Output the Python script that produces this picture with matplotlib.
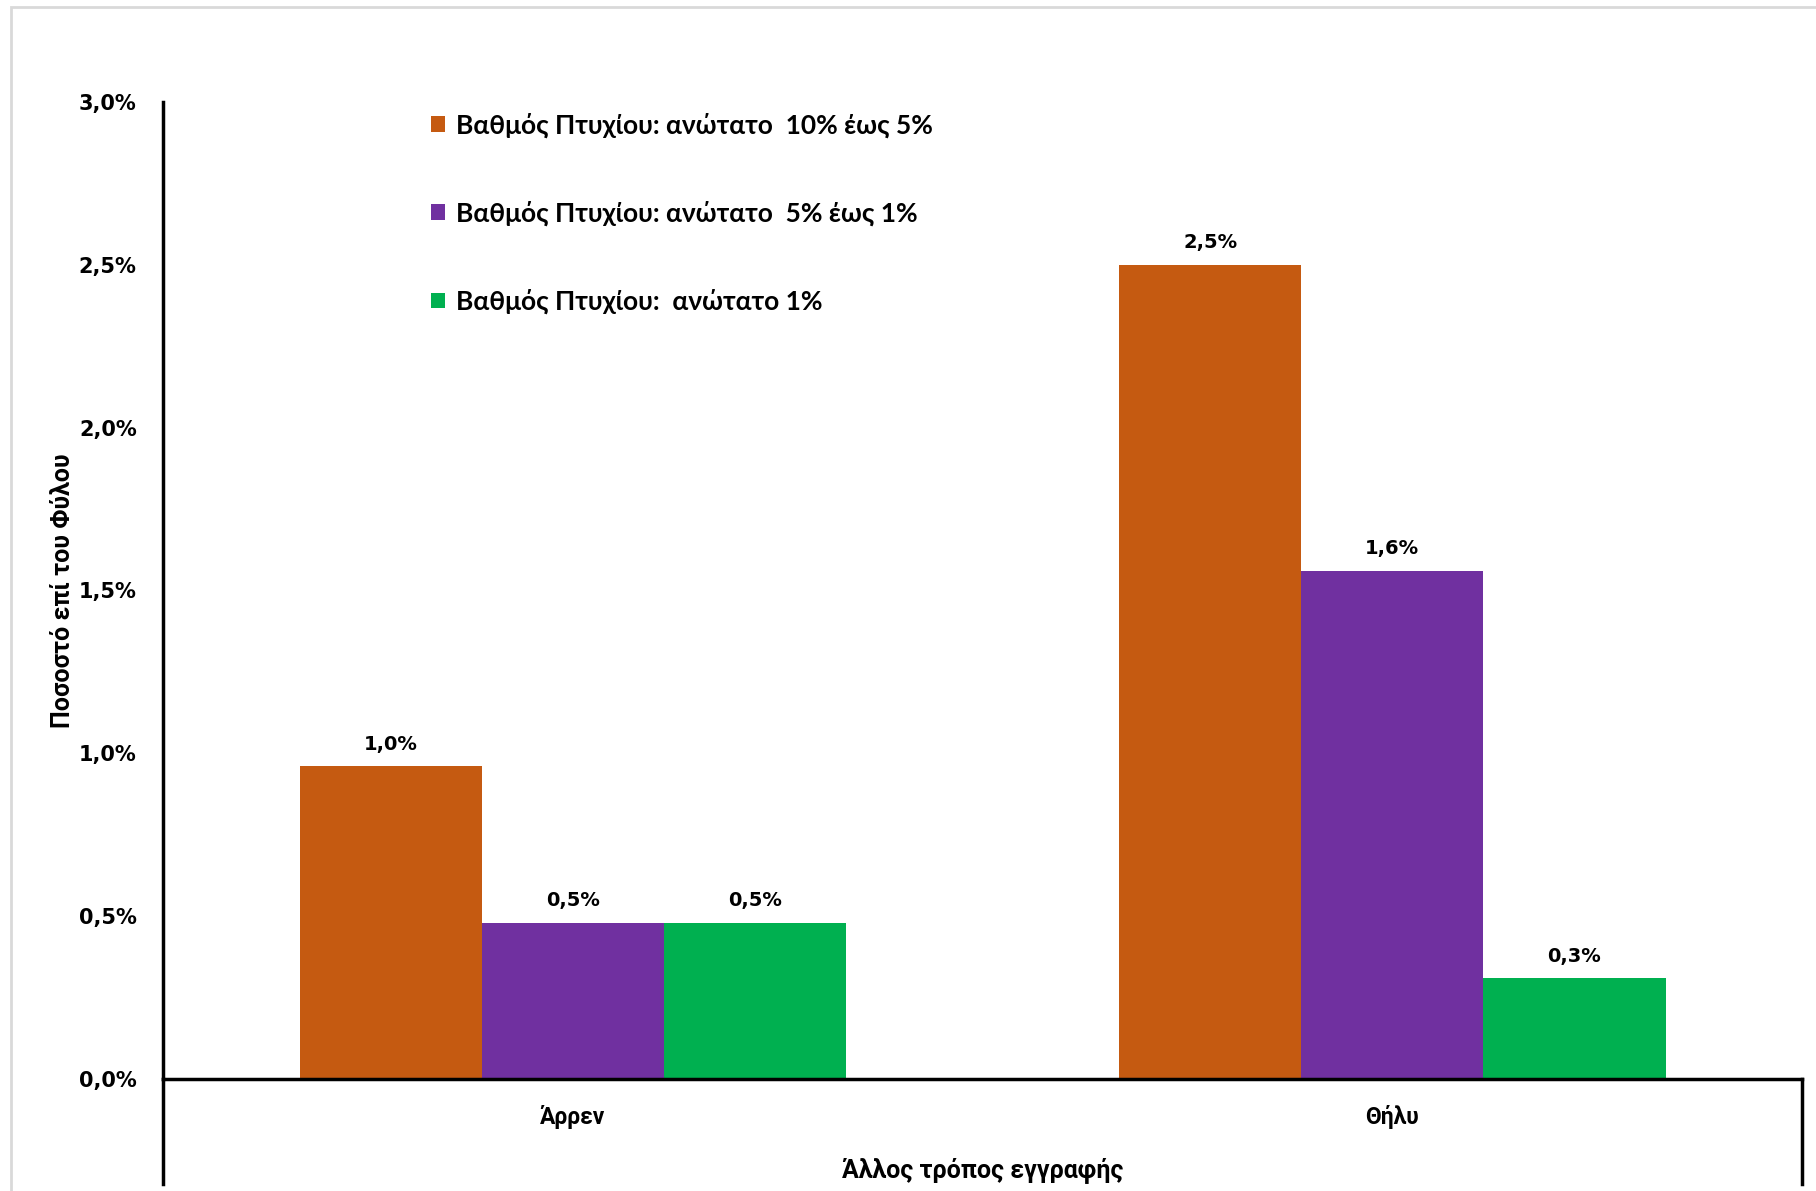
import numpy as np
import matplotlib.pyplot as plt
from matplotlib.patches import Rectangle
from matplotlib.ticker import FuncFormatter

# data (percent)
categories = ['Άρρεν', 'Θήλυ']
series_names = ['Βαθμός Πτυχίου: ανώτατο  10% έως 5%',
                'Βαθμός Πτυχίου: ανώτατο  5% έως 1%',
                'Βαθμός Πτυχίου:  ανώτατο 1%']
top10_5 = [0.96, 2.50]
top5_1 = [0.48, 1.56]
top1 = [0.48, 0.31]
colors = ['#C55A11', '#7030A0', '#00B050']
y_ticks = [0.0, 0.5, 1.0, 1.5, 2.0, 2.5, 3.0]

def PctLabel(v, pos=None):
   return ('%.1f%%' % v).replace('.', ',')

fig = plt.figure(figsize=(18.16, 11.91), dpi=100)
fig.patches.append(Rectangle((11/1816, -0.1), 1.2, 1 - 7/1191 + 0.1, transform=fig.transFigure,
                             fill=False, edgecolor='#d9d9d9', linewidth=2))
ax = fig.add_axes([0.0898, 0.094, 0.9025, 0.8204])

narrow = ['Roboto', 'DejaVu Sans']
x = np.arange(len(categories))
width = 0.2223
all_series = [top10_5, top5_1, top1]
for i, vals in enumerate(all_series):
   pos = x + (i - 1) * width
   bars = ax.bar(pos, vals, width, color=colors[i], label=series_names[i])
   for b, v in zip(bars, vals):
      ax.annotate(PctLabel(v), (b.get_x() + b.get_width() / 2, v), xytext=(0, 9),
                  textcoords='offset points', ha='center', va='bottom',
                  fontsize=14, fontweight='bold', family='DejaVu Sans')

ax.set_xlim(-0.5, 1.5)
ax.set_ylim(0, 3.0)
ax.set_yticks(y_ticks)
ax.yaxis.set_major_formatter(FuncFormatter(PctLabel))
ax.tick_params(axis='y', length=0, pad=19, labelsize=15)
for lab in ax.get_yticklabels():
   lab.set_fontweight('bold')
ax.set_xticks(x)
ax.set_xticklabels(categories, family=narrow, fontsize=16.5, fontweight='bold')
ax.tick_params(axis='x', length=0, pad=19)

ax.spines['top'].set_visible(False)
ax.spines['right'].set_visible(False)
ax.spines['left'].set_linewidth(2.5)
ax.spines['bottom'].set_linewidth(2.5)
# box under the category axis
ax.plot([0, 0], [0, -0.1075], transform=ax.transAxes, clip_on=False, color='black', linewidth=2.5)
ax.plot([1, 1], [0, -0.1075], transform=ax.transAxes, clip_on=False, color='black', linewidth=2.5)

ax.set_xlabel('Άλλος τρόπος εγγραφής', family=narrow, fontsize=18, fontweight='bold', labelpad=20)
ax.set_ylabel('Ποσοστό επί του Φύλου', family=narrow, fontsize=18, fontweight='bold', labelpad=3)

leg = ax.legend(loc='upper left', bbox_to_anchor=(0.157, 1.0), frameon=False,
                prop={'family': ['Lato', 'DejaVu Sans'], 'weight': 'bold', 'size': 19},
                handlelength=0.55, handleheight=0.55, handletextpad=0.4, labelspacing=2.38,
                borderaxespad=0)

fig.savefig('out.png', dpi=100, facecolor='white')
